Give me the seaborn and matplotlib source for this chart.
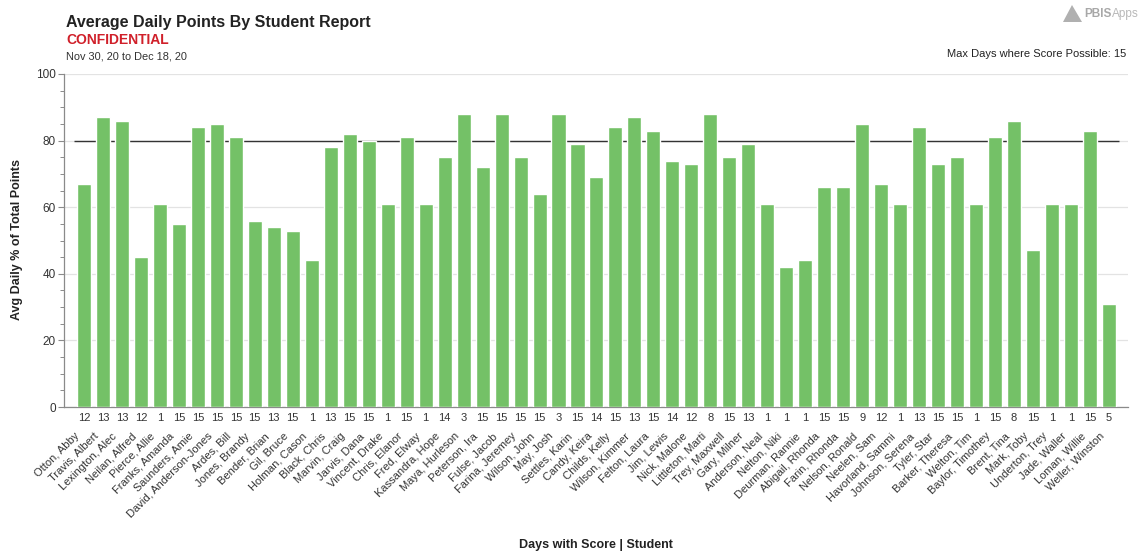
import numpy as np
import pandas as pd
import matplotlib
matplotlib.use("Agg")
import matplotlib.pyplot as plt
import seaborn as sns
from matplotlib.transforms import blended_transform_factory
from matplotlib.ticker import MultipleLocator
from matplotlib.patches import Polygon
from matplotlib.text import Annotation

students = [
    "Otton, Abby", "Travis, Albert", "Lexington, Alec", "Neilan, Alfred", "Pierce, Allie",
    "Franks, Amanda", "Saunders, Amie", "David, Anderson-Jones", "Ardes, Bill", "Jones, Brandy",
    "Bender, Brian", "Gil, Bruce", "Holman, Cason", "Black, Chris", "Marvin, Craig",
    "Jarvis, Dana", "Vincent, Drake", "Chris, Elanor", "Fred, Elway", "Kassandra, Hope",
    "Maya, Hurleson", "Peterson, Ira", "Fulse, Jacob", "Farina, Jeremey", "Wilson, John",
    "May, Josh", "Settles, Karin", "Candy, Keira", "Childs, Kelly", "Wilson, Kimmer",
    "Felton, Laura", "Jim, Lewis", "Nick, Malone", "Littleton, Marti", "Trey, Maxwell",
    "Gary, Milner", "Anderson, Neal", "Nelton, Niki", "Deurman, Rannie", "Abigail, Rhonda",
    "Farin, Rhonda", "Nelson, Ronald", "Neelen, Sam", "Havorland, Sammi", "Johnson, Serena",
    "Tyler, Star", "Barker, Theresa", "Welton, Tim", "Baylor, Timothey", "Brent, Tina",
    "Mark, Toby", "Underton, Trey", "Jade, Waller", "Loman, Willie", "Weller, Winston",
]
days = [12, 13, 13, 12, 1, 15, 15, 15, 15, 15, 13, 15, 1, 13, 15, 15, 1, 15, 1, 14,
        3, 15, 15, 15, 15, 3, 15, 14, 15, 13, 15, 14, 12, 8, 15, 13, 1, 1, 1, 15,
        15, 9, 12, 1, 13, 15, 15, 1, 15, 8, 15, 1, 1, 15, 5]
avg_pct = [67, 87, 86, 45, 61, 55, 84, 85, 81, 56, 54, 53, 44, 78, 82, 80, 61, 81, 61, 75,
           88, 72, 88, 75, 64, 88, 79, 69, 84, 87, 83, 74, 73, 88, 75, 79, 61, 42, 44, 66,
           66, 85, 67, 61, 84, 73, 75, 61, 81, 86, 47, 61, 61, 83, 31]
goal = 80
y_ticks = [0, 20, 40, 60, 80, 100]

title = "Average Daily Points By Student Report"
subtitle = "CONFIDENTIAL"
date_range = "Nov 30, 20 to Dec 18, 20"
max_days_note = "Max Days where Score Possible: 15"
y_label = "Avg Daily % of Total Points"
x_label = "Days with Score | Student"

sns.set_theme(style="white")
plt.rcParams['font.family'] = ['Liberation Sans', 'DejaVu Sans']

W, H = 1143, 555
fig = plt.figure(figsize=(W / 100, H / 100), dpi=100)
ax = fig.add_axes([64 / W, 1 - 407 / H, (1128 - 64) / W, 333 / H])

df = pd.DataFrame({"student": students, "days": days, "pct": avg_pct})
sns.barplot(data=df, x="student", y="pct", color="#74c167", saturation=1,
            width=0.74, ax=ax, zorder=3)

n = len(students)
ax.set_xlim(-1.05, n - 1 + 1.0)
ax.set_ylim(0, 100)
ax.set_yticks(y_ticks)
ax.yaxis.set_minor_locator(MultipleLocator(5))
ax.yaxis.grid(True, which="major", color="#e3e3e3", lw=0.9)
ax.set_axisbelow(True)
ax.hlines(goal, -0.5, n - 0.5, color="#333333", lw=1.0, zorder=2)

for s in ["top", "right"]:
    ax.spines[s].set_visible(False)
for s in ["left", "bottom"]:
    ax.spines[s].set_color("#8a8a8a")
    ax.spines[s].set_linewidth(0.9)

ax.tick_params(axis="y", which="major", length=4, width=0.8, color="#8a8a8a",
               labelsize=8.5, labelcolor="#333333", pad=2, left=True)
ax.tick_params(axis="y", which="minor", length=3, width=0.7, color="#8a8a8a", left=True)
ax.set_xticks(range(n))
ax.set_xticklabels([str(d) for d in days])
ax.tick_params(axis="x", length=0, labelsize=8, labelcolor="#333333", pad=4)
ax.set_xlabel("")
ax.set_ylabel("")

trans = blended_transform_factory(ax.transData, ax.transAxes)
for i, name in enumerate(students):
    ax.text(i - 0.52, -0.072, name, rotation=45, ha="right", va="top",
            rotation_mode="anchor", fontsize=8, color="#333333", transform=trans)

fig.text(66 / W, 1 - 22.5 / H, title, fontsize=11.5, fontweight="bold",
         color="#222222", va="center", ha="left")
fig.text(66 / W, 1 - 40.5 / H, subtitle, fontsize=10, fontweight="bold",
         color="#d0202a", va="center", ha="left")
fig.text(66 / W, 1 - 56.5 / H, date_range, fontsize=7.9, color="#333333",
         va="center", ha="left")
fig.text(1126 / W, 1 - 54 / H, max_days_note, fontsize=8, color="#222222",
         va="center", ha="right")

pbis = fig.text(1084 / W, 1 - 14 / H, "PBIS", fontsize=8.5, fontweight="bold",
                color="#a8a8a8", va="center", ha="left")
apps = Annotation("Apps", xy=(1, 0.5), xycoords=pbis, xytext=(0.5, 0),
                  textcoords="offset points", fontsize=8.5, color="#b8b8b8",
                  va="center", ha="left")
fig.add_artist(apps)
logo = Polygon([[1063 / W, 1 - 22 / H], [1072 / W, 1 - 5 / H], [1082 / W, 1 - 22 / H]],
               closed=True, transform=fig.transFigure, facecolor="#b0b0b0",
               edgecolor="none")
fig.patches.append(logo)

fig.text(17 / W, 1 - 240 / H, y_label, fontsize=9, fontweight="bold",
         color="#222222", rotation=90, va="center", ha="center")
fig.text(596 / W, 1 - 545 / H, x_label, fontsize=9, fontweight="bold",
         color="#222222", va="center", ha="center")

fig.savefig("out.png", dpi=100)
